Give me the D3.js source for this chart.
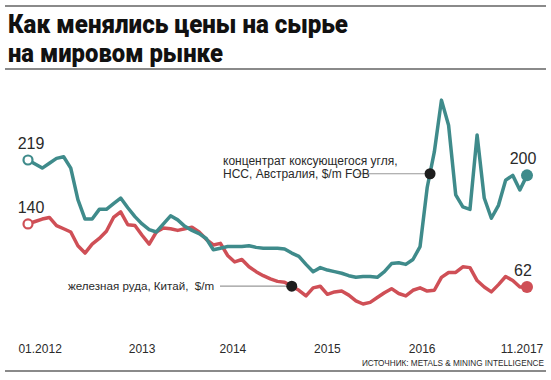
<!DOCTYPE html>
<html>
<head>
<meta charset="utf-8">
<script src="https://cdn.jsdelivr.net/npm/d3@7"></script>
<style>
  body { margin: 0; background: #fff; }
  svg text { font-family: "Liberation Sans Narrow", "Liberation Sans", sans-serif; fill: #2a2a2a; }
  .title { font-family: Roboto, "Open Sans", sans-serif; font-weight: 900; font-size: 25px; fill: #111; }
</style>
</head>
<body>
<div id="chart"></div>
<script>
var width = 551;
var height = 380;

// month index 0 = 01.2012 ... 70 = 11.2017
var coal = [
  219, 214, 209, 215, 221, 223, 209, 170, 146, 146, 158, 158,
  165, 172, 160, 149, 140, 133, 130, 140, 150, 145, 137, 132,
  128, 122, 108, 110, 112, 112, 112, 113, 111, 110, 110, 110,
  109, 104, 100, 90, 81, 86, 83, 81, 79, 76, 74, 75,
  75, 74, 81, 91, 92, 90, 96, 112, 185, 229, 293, 262,
  176, 161, 158, 250, 172, 147, 163, 194, 200, 182, 200
];
var ore = [
  140, 143, 146, 148, 138, 134, 130, 113, 104, 115, 122, 131,
  148, 155, 139, 138, 126, 115, 130, 135, 134, 132, 134, 136,
  130, 121, 114, 116, 101, 93, 96, 87, 81, 76, 72, 69,
  68, 63, 58, 51, 61, 63, 53, 56, 57, 52, 45, 41,
  43, 49, 55, 60, 54, 51, 58, 61, 57, 58, 74, 80,
  80, 87, 86, 70, 62, 56, 65, 75, 70, 62, 62
];

var tickLabels = ["01.2012", "2013", "2014", "2015", "2016", "11.2017"];
var tickMonths = [1.7, 16, 28.75, 42, 55.3, 69.3];

var titleLines = ["Как менялись цены на сырье", "на мировом рынке"];
var coalNote = ["концентрат коксующегося угля,", "HCC, Австралия, $/m FOB"];
var oreNote = "железная руда, Китай,  $/m";
var source = "ИСТОЧНИК: METALS & MINING INTELLIGENCE";

var teal = "#3f8b8b";
var red = "#cf4f56";

var svg = d3.select("#chart").append("svg")
  .attr("width", width)
  .attr("height", height);

// header rules + title
svg.append("line").attr("x1", 5).attr("x2", 546).attr("y1", 6).attr("y2", 6)
  .attr("stroke", "#8a8a8a").attr("stroke-width", 2);
svg.append("line").attr("x1", 5).attr("x2", 546).attr("y1", 69).attr("y2", 69)
  .attr("stroke", "#8a8a8a").attr("stroke-width", 2);
svg.append("text").attr("class", "title").attr("x", 8).attr("y", 33)
  .attr("textLength", 340).attr("lengthAdjust", "spacingAndGlyphs")
  .text(titleLines[0]);
svg.append("text").attr("class", "title").attr("x", 8).attr("y", 62)
  .attr("textLength", 215).attr("lengthAdjust", "spacingAndGlyphs")
  .text(titleLines[1]);

// scales
var x = d3.scaleLinear().domain([0, coal.length - 1]).range([28, 527]);
var y = d3.scaleLinear().domain([0, 219]).range([337.2, 160]);

// bottom labels
svg.selectAll("text.tick").data(tickLabels).enter().append("text")
  .attr("class", "tick")
  .attr("x", function (d, i) { return x(tickMonths[i]); })
  .attr("y", 352.5)
  .attr("text-anchor", "middle")
  .attr("font-size", 12)
  .text(function (d) { return d; });

svg.append("text")
  .attr("x", 544).attr("y", 365.5)
  .attr("text-anchor", "end")
  .attr("font-size", 8.2)
  .attr("fill", "#333")
  .text(source);

svg.append("line").attr("x1", 5).attr("x2", 546).attr("y1", 371).attr("y2", 371)
  .attr("stroke", "#8a8a8a").attr("stroke-width", 2);

// lines
var line = d3.line()
  .x(function (d, i) { return x(i); })
  .y(function (d) { return y(d); })
  .curve(d3.curveLinear);

svg.append("path").datum(ore)
  .attr("d", line).attr("fill", "none")
  .attr("stroke", red).attr("stroke-width", 3.5).attr("stroke-linejoin", "round");

svg.append("path").datum(coal)
  .attr("d", line).attr("fill", "none")
  .attr("stroke", teal).attr("stroke-width", 3.5).attr("stroke-linejoin", "round");

// start/end markers and value labels
function ends(values, color) {
  var last = values.length - 1;
  svg.append("circle").attr("cx", x(0)).attr("cy", y(values[0])).attr("r", 4.5)
    .attr("fill", "#fff").attr("stroke", color).attr("stroke-width", 2.2);
  svg.append("circle").attr("cx", x(last)).attr("cy", y(values[last])).attr("r", 6)
    .attr("fill", color);
  svg.append("text").attr("x", x(0) + 3).attr("y", y(values[0]) - 11)
    .attr("text-anchor", "middle").attr("font-size", 16)
    .attr("font-family", "Liberation Sans, sans-serif").attr("fill", "#1a1a1a")
    .text(values[0]);
  svg.append("text").attr("x", x(last) - 4).attr("y", y(values[last]) - 11)
    .attr("text-anchor", "middle").attr("font-size", 16)
    .attr("font-family", "Liberation Sans, sans-serif").attr("fill", "#1a1a1a")
    .text(values[last]);
}
ends(ore, red);
ends(coal, teal);

// annotation: coking coal
var coalDot = { m: 56.4, v: 202 };
svg.append("line")
  .attr("x1", 357).attr("x2", x(coalDot.m))
  .attr("y1", y(coalDot.v)).attr("y2", y(coalDot.v))
  .attr("stroke", "#999").attr("stroke-width", 1.2);
svg.append("circle").attr("cx", x(coalDot.m)).attr("cy", y(coalDot.v)).attr("r", 5.5)
  .attr("fill", "#1e1e1e");
svg.selectAll("text.coalnote").data(coalNote).enter().append("text")
  .attr("class", "coalnote")
  .attr("x", 223)
  .attr("y", function (d, i) { return y(coalDot.v) - 9 + i * 13; })
  .attr("font-size", 12)
  .text(function (d) { return d; });

// annotation: iron ore
var oreDot = { m: 37, v: 63 };
svg.append("line")
  .attr("x1", 220).attr("x2", x(oreDot.m))
  .attr("y1", y(oreDot.v)).attr("y2", y(oreDot.v))
  .attr("stroke", "#999").attr("stroke-width", 1.2);
svg.append("circle").attr("cx", x(oreDot.m)).attr("cy", y(oreDot.v)).attr("r", 5.5)
  .attr("fill", "#1e1e1e");
svg.append("text")
  .attr("x", 68).attr("y", y(oreDot.v) + 4)
  .attr("font-size", 11.6)
  .style("white-space", "pre")
  .text(oreNote);
</script>
</body>
</html>
